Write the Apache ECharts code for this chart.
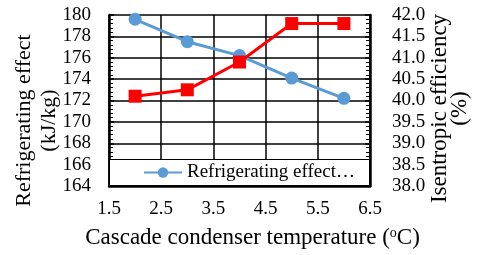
<!DOCTYPE html>
<html><head><meta charset="utf-8">
<script src="https://cdn.jsdelivr.net/npm/echarts@6/dist/echarts.min.js"></script>
<style>html,body{margin:0;padding:0;background:#fff}#c{width:480px;height:255px}</style>
</head><body><div id="c"></div>
<script>
const temps = [2, 3, 4, 5, 6];
const refrigEffect = [179.6, 177.5, 176.2, 174.1, 172.2];
const isenEff = [40.1, 40.25, 40.9, 41.8, 41.8];
const leftTicks = {min: 164, max: 180, interval: 2};
const rightTicks = {min: 38, max: 42, interval: 0.5};
const xTicks = {min: 1.5, max: 6.5, interval: 1};

const FONT = 'Liberation Serif';
const chart = echarts.init(document.getElementById('c'), null, {renderer: 'canvas'});
chart.setOption({
  animation: false,
  backgroundColor: '#fff',
  textStyle: {fontFamily: FONT},
  grid: {left: 109, right: 110, top: 15, height: 171, containLabel: false, outerBoundsMode: 'none'},
  xAxis: {
    type: 'value', min: xTicks.min, max: xTicks.max, interval: xTicks.interval,
    axisLine: {show: true, onZero: false, lineStyle: {color: '#000', width: 2.5}},
    axisTick: {show: false},
    splitLine: {show: true, lineStyle: {color: '#000', width: 1.5}},
    axisLabel: {color: '#000', fontFamily: FONT, fontSize: 19, margin: 14,
      formatter: v => v.toFixed(1)},
    name: 'Cascade condenser temperature ({sup|o}C)',
    nameLocation: 'middle', nameGap: 40, nameMoveOverlap: false,
    nameTextStyle: {color: '#000', fontFamily: FONT, fontSize: 23, padding: [0, 0, 0, 26],
      rich: {sup: {fontFamily: FONT, fontSize: 14, verticalAlign: 'top', padding: [0, 0, 9, 0], color: '#000'}}}
  },
  yAxis: [{
    type: 'value', min: leftTicks.min, max: leftTicks.max, interval: leftTicks.interval,
    axisLine: {show: true, lineStyle: {color: '#000', width: 2.5}},
    axisTick: {show: true, inside: true, length: 5, lineStyle: {color: '#000', width: 1.5}},
    minorTick: {show: true, splitNumber: 5, length: 4, lineStyle: {color: '#000', width: 1}},
    splitLine: {show: true, lineStyle: {color: '#000', width: 1.5}},
    axisLabel: {color: '#000', fontFamily: FONT, fontSize: 19, margin: 18},
    name: 'Refrigerating effect\n(kJ/kg)', nameLocation: 'middle', nameGap: 47, nameRotate: 90,
    nameMoveOverlap: false,
    nameTextStyle: {color: '#000', fontFamily: FONT, fontSize: 22, lineHeight: 25, padding: [0, 40, 0, 0]}
  }, {
    type: 'value', position: 'right', min: rightTicks.min, max: rightTicks.max, interval: rightTicks.interval,
    axisLine: {show: true, lineStyle: {color: '#000', width: 2.5}},
    axisTick: {show: true, inside: true, length: 5, lineStyle: {color: '#000', width: 1.5}},
    minorTick: {show: true, splitNumber: 5, length: 4, lineStyle: {color: '#000', width: 1}},
    splitLine: {show: false},
    axisLabel: {color: '#000', fontFamily: FONT, fontSize: 19, margin: 22, formatter: v => v.toFixed(1)},
    name: 'Isentropic efficiency\n(%)', nameLocation: 'middle', nameGap: 60, nameRotate: 90,
    nameMoveOverlap: false,
    nameTextStyle: {color: '#000', fontFamily: FONT, fontSize: 23, lineHeight: 20, padding: [0, 16, 0, 0]}
  }],
  graphic: [{
    type: 'rect', z: 3, shape: {x: 109.5, y: 159.5, width: 260, height: 26},
    style: {fill: '#fff', stroke: '#000', lineWidth: 1}
  }],
  legend: {
    show: true, left: 143, top: 163, padding: 0, itemWidth: 38, itemHeight: 13, itemGap: 8,
    data: ['Refrigerating effect (kJ/kg)'],
    formatter: () => 'Refrigerating effect\u2026',
    textStyle: {color: '#000', fontFamily: FONT, fontSize: 19}
  },
  series: [{
    name: 'Refrigerating effect (kJ/kg)', type: 'line', yAxisIndex: 0,
    data: temps.map((t, i) => [t, refrigEffect[i]]),
    symbol: 'circle', symbolSize: 13,
    lineStyle: {color: '#5B9BD5', width: 3}, itemStyle: {color: '#5B9BD5'}
  }, {
    name: 'Isentropic efficiency (%)', type: 'line', yAxisIndex: 1,
    data: temps.map((t, i) => [t, isenEff[i]]),
    symbol: 'rect', symbolSize: 13,
    lineStyle: {color: '#FF0000', width: 3}, itemStyle: {color: '#FF0000'}
  }]
});
</script></body></html>
